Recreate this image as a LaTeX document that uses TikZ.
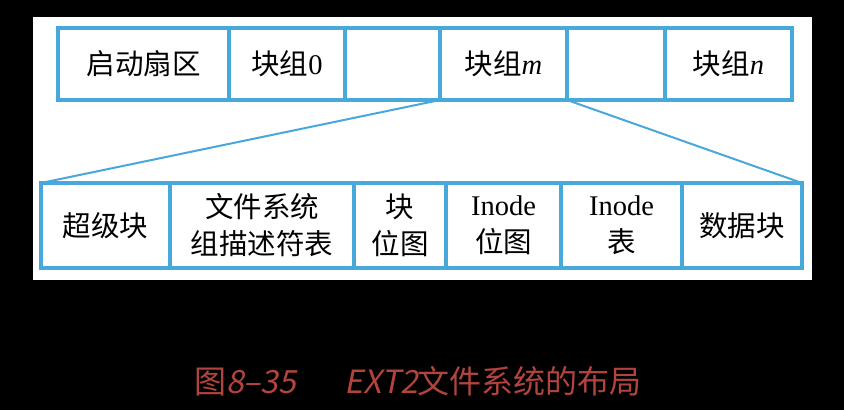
\documentclass[tikz,border=0pt]{standalone}
\usepackage{fontspec}
\setmainfont{Liberation Serif}
\newfontfamily\cjk{Noto Sans CJK SC}
\newfontfamily\capslant{Noto Sans CJK SC}[FakeSlant=0.2]
\usetikzlibrary{positioning}
\definecolor{cLine}{RGB}{72,168,220}
\definecolor{cCap}{RGB}{178,68,62}
\tikzset{
	cell/.style   ={rectangle, draw=cLine, line width=3.2pt, inner sep=0pt, outer sep=0pt, align=center, font=\fontsize{28.5}{37}\selectfont},
	toprow/.style ={cell, minimum height=72pt},
	botrow/.style ={cell, minimum height=85pt},
	link/.style   ={draw=cLine, line width=2pt},
}
\begin{document}
\begin{tikzpicture}[x=1pt, y=-1pt]
	\fill[black] (0,0) rectangle (844,410);
	\fill[white] (33,17) rectangle (812,280);
	% disk layout
	\node[toprow, minimum width=171pt, anchor=north west] (boot) at (58,28) {\cjk 启动扇区};
	\node[toprow, minimum width=116pt, right=0pt of boot] (g0) {{\cjk 块组}0};
	\node[toprow, minimum width=95pt, right=0pt of g0] (gx) {};
	\node[toprow, minimum width=127pt, right=0pt of gx] (gm) {{\cjk 块组}\textit{m}};
	\node[toprow, minimum width=98pt, right=0pt of gm] (gy) {};
	\node[toprow, minimum width=127pt, right=0pt of gy] (gn) {{\cjk 块组}\textit{n}};
	% block group contents
	\node[botrow, minimum width=129pt, anchor=north west] (sb) at (41,183) {\cjk 超级块};
	\node[botrow, minimum width=184pt, right=0pt of sb] (gdt) {\cjk 文件系统\\\cjk 组描述符表};
	\node[botrow, minimum width=92pt, right=0pt of gdt] (bbm) {\cjk 块\\\cjk 位图};
	\node[botrow, minimum width=115pt, right=0pt of bbm] (ibm) {Inode\\\cjk 位图};
	\node[botrow, minimum width=121pt, right=0pt of ibm] (itab) {Inode\\\cjk 表};
	\node[botrow, minimum width=120pt, right=0pt of itab] (data) {\cjk 数据块};
	\draw[link] (gm.south west) -- (sb.north west);
	\draw[link] (gm.south east) -- (data.north east);
	% caption
	\node[text=cCap, font=\cjk\fontsize{32}{34}\selectfont] (cap) at (418,381)
		{图{\capslant 8–35}\hspace{1.5em}{\capslant EXT2}文件系统的布局};
\end{tikzpicture}
\end{document}
